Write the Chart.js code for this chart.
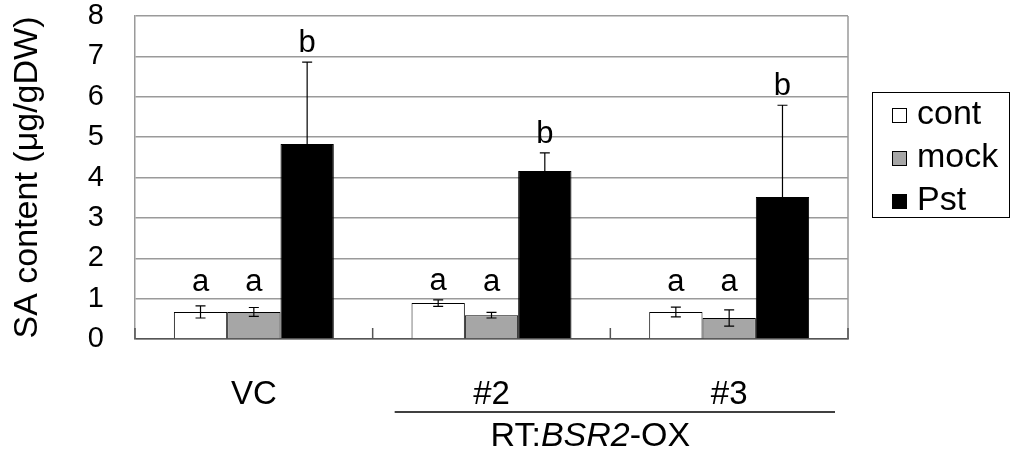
<!DOCTYPE html>
<html>
<head>
<meta charset="utf-8">
<script src="https://cdn.jsdelivr.net/npm/chart.js@4"></script>
<style>
  html, body { margin: 0; background: #fff; }
  #wrap { width: 1011px; height: 450px; }
</style>
</head>
<body>
<div id="wrap"><canvas id="myChart"></canvas></div>
<script>
var categories = ['VC', '#2', '#3'];
var seriesNames = ['cont', 'mock', 'Pst'];

var contValues = [0.67, 0.89, 0.67];
var contErrors = [0.15, 0.08, 0.12];
var mockValues = [0.67, 0.59, 0.52];
var mockErrors = [0.11, 0.07, 0.20];
var pstValues = [4.83, 4.16, 3.52];
var pstErrors = [2.03, 0.45, 2.27];

var contLetters = ['a', 'a', 'a'];
var mockLetters = ['a', 'a', 'a'];
var pstLetters = ['b', 'b', 'b'];

var yTicks = [0, 1, 2, 3, 4, 5, 6, 7, 8];

var FONT = '"Liberation Sans", Arial, sans-serif';
var gridColor = '#9a9a9a';

function makeSet(name, values, errors, letters, fill, twoSided) {
  return {
    label: name,
    data: values,
    errors: errors,
    letters: letters,
    twoSided: twoSided,
    backgroundColor: fill,
    borderColor: '#000',
    borderWidth: 1,
    categoryPercentage: 0.673,
    barPercentage: 1.0
  };
}

// error bars, letters, frame, legend and the group label
var extras = {
  id: 'extras',
  afterDatasetsDraw: function (chart) {
    var ctx = chart.ctx;
    var ys = chart.scales.y;
    var xs = chart.scales.x;
    var area = chart.chartArea;

    ctx.save();
    // right frame line
    ctx.strokeStyle = gridColor;
    ctx.lineWidth = 1.5;
    ctx.beginPath();
    ctx.moveTo(area.right, area.top);
    ctx.lineTo(area.right, area.bottom);
    ctx.stroke();

    // small category ticks pointing up from the bottom axis
    ctx.strokeStyle = '#555';
    ctx.lineWidth = 1.5;
    for (var i = 0; i <= categories.length; i++) {
      var bx;
      if (i === 0) bx = area.left;
      else if (i === categories.length) bx = area.right;
      else bx = (xs.getPixelForValue(i - 1) + xs.getPixelForValue(i)) / 2;
      ctx.beginPath();
      ctx.moveTo(bx, area.bottom);
      ctx.lineTo(bx, area.bottom - 11);
      ctx.stroke();
    }

    // error bars + letters
    chart.data.datasets.forEach(function (ds, di) {
      var meta = chart.getDatasetMeta(di);
      meta.data.forEach(function (bar, j) {
        var v = ds.data[j], e = ds.errors[j];
        var yTop = ys.getPixelForValue(v + e);
        var yBot = ds.twoSided ? ys.getPixelForValue(v - e) : bar.y;
        ctx.strokeStyle = '#000';
        ctx.lineWidth = 1.2;
        ctx.beginPath();
        ctx.moveTo(bar.x, yTop);
        ctx.lineTo(bar.x, yBot);
        ctx.moveTo(bar.x - 5, yTop);
        ctx.lineTo(bar.x + 5, yTop);
        if (ds.twoSided) {
          ctx.moveTo(bar.x - 5, yBot);
          ctx.lineTo(bar.x + 5, yBot);
        }
        ctx.stroke();

        var ly = Math.min(yTop - 10, ys.getPixelForValue(1.2));
        ctx.fillStyle = '#000';
        ctx.font = '31px ' + FONT;
        ctx.textAlign = 'center';
        ctx.textBaseline = 'alphabetic';
        ctx.fillText(ds.letters[j], bar.x, ly);
      });
    });

    // legend box
    var lx = area.right + 24, ly0 = area.top + 76;
    ctx.strokeStyle = '#000';
    ctx.lineWidth = 1;
    ctx.strokeRect(lx + 0.5, ly0 + 0.5, chart.width - lx - 2, 125);
    chart.data.datasets.forEach(function (ds, di) {
      var cy = ly0 + 23 + di * 43;
      ctx.fillStyle = ds.backgroundColor;
      ctx.fillRect(lx + 20, cy - 7, 15, 15);
      ctx.strokeStyle = '#000';
      ctx.strokeRect(lx + 20.5, cy - 6.5, 14, 14);
      ctx.fillStyle = '#000';
      ctx.font = '34px ' + FONT;
      ctx.textAlign = 'left';
      ctx.textBaseline = 'middle';
      ctx.fillText(ds.label, lx + 45, cy);
    });

    // group label under #2 and #3
    var g1 = (xs.getPixelForValue(0) + xs.getPixelForValue(1)) / 2;
    var g2 = area.right;
    var lineY = area.bottom + 73;
    ctx.strokeStyle = '#000';
    ctx.lineWidth = 1.5;
    ctx.beginPath();
    ctx.moveTo(g1 + 22, lineY);
    ctx.lineTo(g2 - 13, lineY);
    ctx.stroke();

    var parts = [['RT:', 'normal'], ['BSR2', 'italic'], ['-OX', 'normal']];
    var total = 0;
    parts.forEach(function (p) {
      ctx.font = p[1] + ' 34px ' + FONT;
      total += ctx.measureText(p[0]).width;
    });
    var tx = (xs.getPixelForValue(1) + xs.getPixelForValue(2)) / 2 - 20 - total / 2;
    ctx.fillStyle = '#000';
    ctx.textAlign = 'left';
    ctx.textBaseline = 'alphabetic';
    parts.forEach(function (p) {
      ctx.font = p[1] + ' 34px ' + FONT;
      ctx.fillText(p[0], tx, lineY + 34);
      tx += ctx.measureText(p[0]).width;
    });
    ctx.restore();
  }
};

var ctx = document.getElementById('myChart').getContext('2d');

var myChart = new Chart(ctx, {
  type: 'bar',
  data: {
    labels: categories,
    datasets: [
      makeSet(seriesNames[0], contValues, contErrors, contLetters, '#ffffff', true),
      makeSet(seriesNames[1], mockValues, mockErrors, mockLetters, '#a6a6a6', true),
      makeSet(seriesNames[2], pstValues, pstErrors, pstLetters, '#000000', false)
    ]
  },
  options: {
    responsive: true,
    maintainAspectRatio: false,
    animation: false,
    layout: { padding: { top: 16, right: 163, left: 0, bottom: 0 } },
    plugins: {
      legend: { display: false },
      tooltip: { enabled: false }
    },
    scales: {
      x: {
        grid: { display: false },
        border: { display: true, color: '#555', width: 1.5 },
        ticks: { color: '#000', font: { family: FONT, size: 33 }, padding: 28 },
        afterFit: function (scale) { scale.height = 111; }
      },
      y: {
        min: 0,
        max: 8,
        afterBuildTicks: function (scale) {
          scale.ticks = yTicks.map(function (v) { return { value: v }; });
        },
        grid: { color: gridColor, lineWidth: 1.5, drawTicks: false },
        border: { display: true, color: gridColor, width: 1.5 },
        ticks: { color: '#000', font: { family: FONT, size: 29 }, padding: 31, autoSkip: false },
        title: {
          display: true,
          text: 'SA content (μg/gDW)',
          color: '#000',
          font: { family: FONT, size: 34 },
          padding: { top: 7, bottom: 0 }
        },
        afterFit: function (scale) {
          scale.width = 135;
          scale.paddingTop = 0;
          scale.paddingBottom = 0;
        }
      }
    }
  },
  plugins: [extras]
});
</script>
</body>
</html>
